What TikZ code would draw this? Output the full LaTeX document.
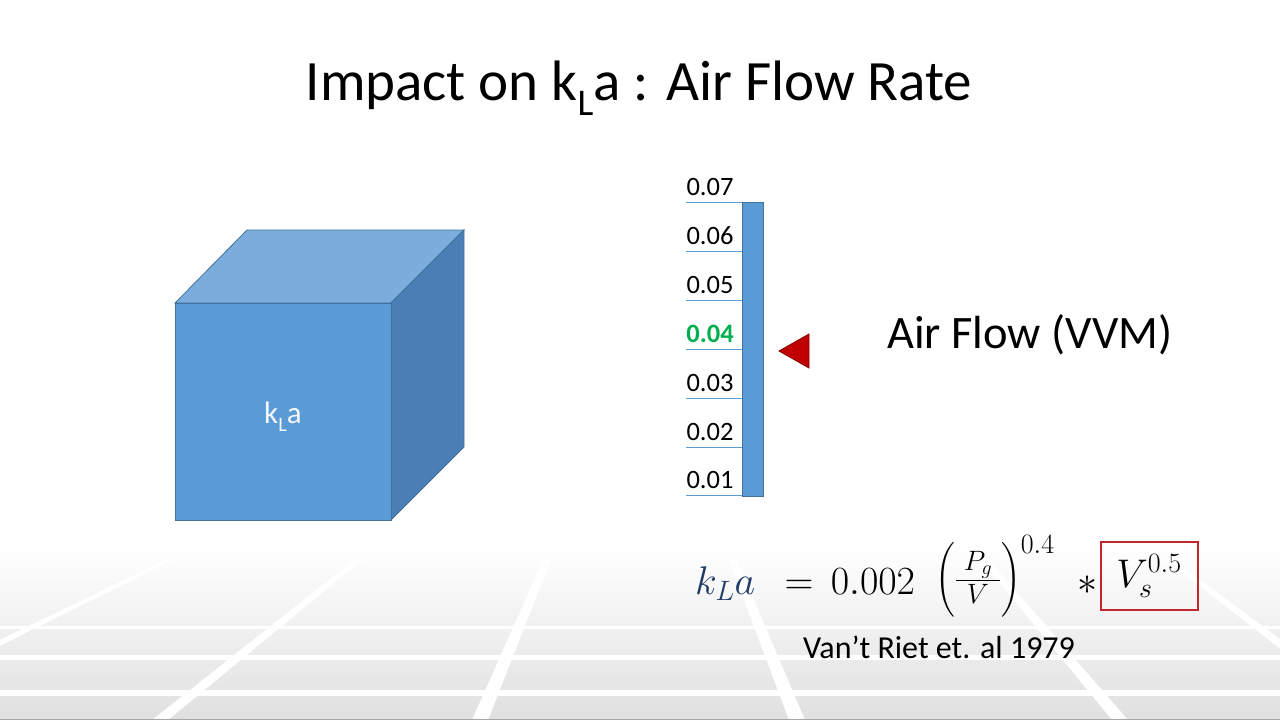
\RequirePackage{fix-cm}
\documentclass[tikz,border=0pt]{standalone}
\usepackage{amsmath}
\usepackage[no-math]{fontspec}
\setmainfont{Carlito}
\definecolor{barblue}{HTML}{5B9BD5}
\definecolor{bardark}{HTML}{41719C}
\definecolor{cubefront}{HTML}{5B9BD5}
\definecolor{cubetop}{HTML}{7BADDC}
\definecolor{cubeside}{HTML}{4A7EB5}
\definecolor{cubeedge}{HTML}{41719C}
\definecolor{arrowred}{HTML}{C00000}
\definecolor{boxred}{HTML}{C0282D}
\definecolor{eqblue}{HTML}{1F3B66}
\definecolor{pickgreen}{HTML}{00B050}
\definecolor{floorgray}{HTML}{E0E0E0}
\newcommand\lowsub[1]{\raisebox{-0.28em}{\scalebox{0.66}{#1}}}
\newcommand\floorline[2]{\fill[white] ({#1-8},720) -- ({#1+8},720) -- ({#2+4},560) -- ({#2-4},560) -- cycle;}
\tikzset{
  scalelabel/.style={font=\fontsize{26.5}{30}\selectfont, inner sep=0, anchor=base},
  tickline/.style={draw=barblue, line width=1},
  mathpart/.style={inner sep=0, font=\fontsize{40}{46}\selectfont},
}
\begin{document}
\begin{tikzpicture}[x=1pt,y=-1pt]
\useasboundingbox (0,0) rectangle (1280,720);
\fill[white] (0,0) rectangle (1280,720);
% floor
\shade[top color=white, bottom color=floorgray] (0,545) rectangle (1280,720);
\fill[white] (0,625.5) rectangle (1280,628.5);
\fill[white] (0,655) rectangle (1280,659.5);
\fill[white] (0,690) rectangle (1280,696);
\floorline{-158}{169}
\floorline{160}{358}
\floorline{480}{547}
\floorline{797}{733}
\floorline{1120}{985}
\floorline{1380}{1170}
\draw[gray!70, line width=1.2] (0,719.4) -- (1280,719.4);
% title
\node[font=\fontsize{57}{62}\selectfont, anchor=base, inner sep=0] (title) at (639,100) {Impact on k\lowsub{L}a : Air Flow Rate};
% cube
\fill[cubetop, draw=cubeedge, line width=0.8] (175,303) -- (247,230) -- (464,230) -- (391,303) -- cycle;
\fill[cubeside, draw=cubeedge, line width=0.8] (391,303) -- (464,230) -- (464,447) -- (391,520) -- cycle;
\node[draw=cubeedge, line width=0.8, fill=cubefront, minimum width=216, minimum height=217, inner sep=0] (front) at (283,411.5) {};
\node[anchor=base, inner sep=0, text=white!92!barblue, font=\fontsize{31}{36}\selectfont] (kla) at (283,423) {k\lowsub{L}a};
% scale bar
\node[draw=bardark, line width=0.8, fill=barblue, minimum width=21, minimum height=294, inner sep=0, anchor=north west] (bar) at (742,202) {};
\foreach \v/\y in {0.07/202,0.06/251,0.05/300,0.03/398,0.02/447,0.01/495}{
  \draw[tickline] (686,\y) -- (742,\y);
  \node[scalelabel] at (710,{\y-7}) {\v};
}
\draw[tickline] (686,349) -- (742,349);
\node[scalelabel, text=pickgreen, font=\fontsize{26.5}{30}\selectfont\bfseries] (pick) at (710,342) {0.04};
% pointer
\fill[arrowred, draw=arrowred!70!black, line width=0.8] (779,351) -- (809,334) -- (809,368) -- cycle;
\node[font=\fontsize{46.5}{52}\selectfont, anchor=base, inner sep=0] (airflow) at (1030,348) {Air Flow (VVM)};
% formula
\node[mathpart, anchor=base west] (eqlhs) at (695,594) {$\color{eqblue}k_L a$};
\node[mathpart, anchor=base] (eqsign) at (799,594) {$=$};
\node[mathpart, anchor=base] (eqcoef) at (873,594) {$0.002$};
\node[mathpart, anchor=base west] (eqfrac) at (935,590) {$\Bigl(\frac{\;P_g\;}{V}\Bigr)^{0.4}$};
\node[mathpart, anchor=base] (eqstar) at (1087,594) {$\ast$};
\node[mathpart, draw=boxred, line width=2, minimum width=97, minimum height=68] (vs) at (1149,576) {$V_s^{0.5}$};
\node[font=\fontsize{32}{38}\selectfont, anchor=base, inner sep=0] (ref) at (939,658) {Van’t Riet et. al 1979};
\end{tikzpicture}
\end{document}
